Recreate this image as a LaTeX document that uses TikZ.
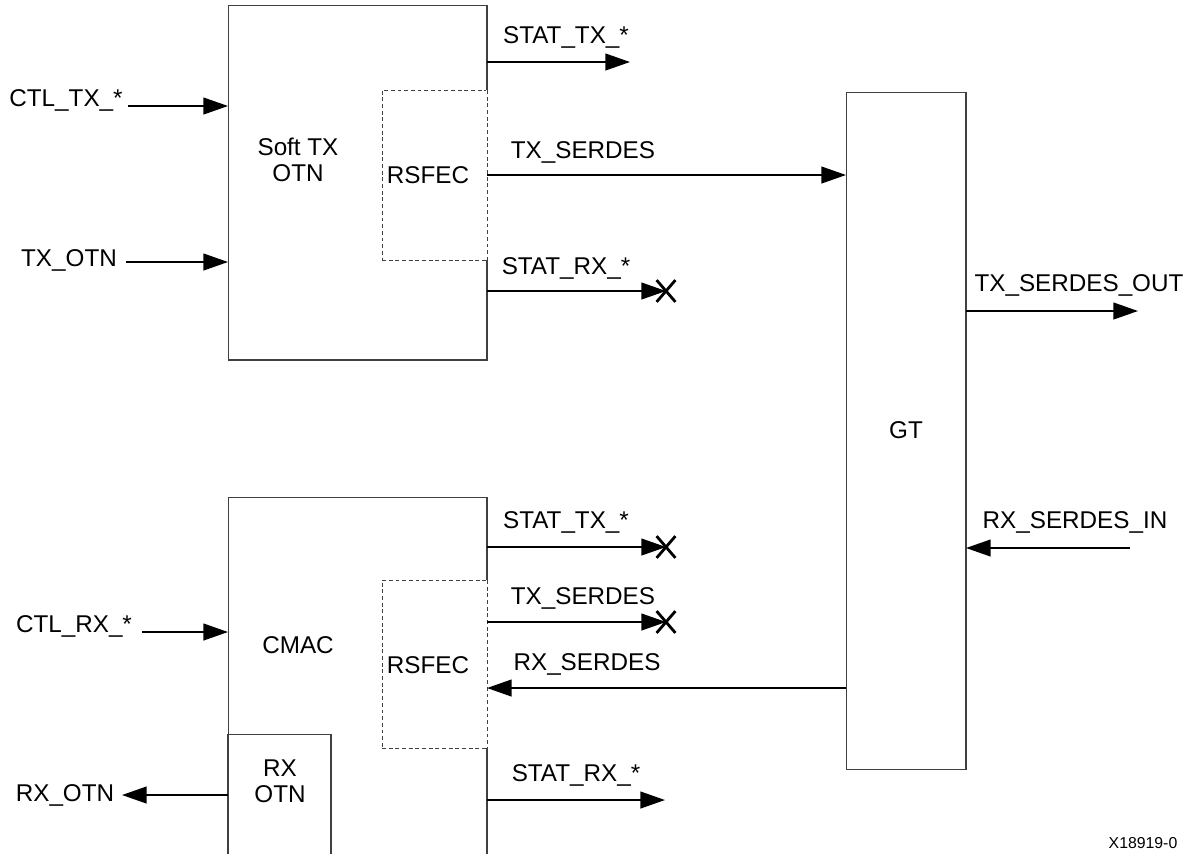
\documentclass[tikz,border=0pt]{standalone}
\usepackage{fontspec}
\setmainfont{Liberation Sans}
\usetikzlibrary{arrows.meta,shapes.misc,positioning}

\begin{document}
\begin{tikzpicture}[x=0.02cm,y=-0.02cm,>={Triangle[length=14pt,width=9.5pt]},
    blk/.style={draw=black!75,line width=0.6pt,inner sep=0pt,outer sep=0pt},
    fec/.style={draw=black!75,line width=0.5pt,dash pattern=on 2.2pt off 1.6pt,inner sep=0pt,outer sep=0pt},
    sig/.style={->,line width=1.1pt},
    lbl/.style={font=\fontsize{13.8}{14.6}\selectfont,inner sep=1pt,align=center},
    xend/.style={cross out,draw,line width=1.6pt,minimum width=0.32cm,minimum height=0.38cm,inner sep=0pt}]
    \useasboundingbox (0,0) rectangle (1195,853);
    % blocks
    \node[blk,minimum width=5.18cm,minimum height=7.1cm] (softtx) at (357.5,182.5) {};
    \node[blk,minimum width=5.18cm,minimum height=7.2cm] (cmac) at (357.5,677) {};
    \node[blk,minimum width=2.4cm,minimum height=13.56cm] (gt) at (906,431) {};
    \node[blk,minimum width=2.06cm,minimum height=2.44cm] (rxotn) at (279.5,795) {};
    \node[fec,minimum width=2.1cm,minimum height=3.4cm] (fec1) at (434.5,175) {};
    \node[fec,minimum width=2.1cm,minimum height=3.36cm] (fec2) at (434.5,664) {};
    \draw[white,line width=1.2pt] (fec1.north east) -- (fec1.south east) (fec2.north east) -- (fec2.south east);
    \draw[fec] (fec1.north east) -- (fec1.south east) (fec2.north east) -- (fec2.south east);
    \node[lbl] (softlbl) at (298,160) {Soft TX\\OTN};
    \node[lbl] (cmaclbl) at (298,645) {CMAC};
    \node[lbl] (gtlbl) at (906,430) {GT};
    \node[lbl] (rxotnlbl) at (280,781) {RX\\OTN};
    \node[lbl] (fec1lbl) at (428,175) {RSFEC};
    \node[lbl] (fec2lbl) at (428,665) {RSFEC};
    % inputs on the left
    \coordinate (ctltxin) at (128,106);
    \coordinate (txotnin) at (126,262);
    \coordinate (ctlrxin) at (142,632);
    \coordinate (rxotnout) at (122,795);
    \node[lbl] (ctltx) at (66,100) {CTL\_TX\_*};
    \node[lbl] (txotn) at (69,260) {TX\_OTN};
    \node[lbl] (ctlrx) at (74,626) {CTL\_RX\_*};
    \node[lbl] (rxotnl) at (65,795) {RX\_OTN};
    \draw[sig] (ctltxin) -- (ctltxin -| softtx.west);
    \draw[sig] (txotnin) -- (txotnin -| softtx.west);
    \draw[sig] (ctlrxin) -- (ctlrxin -| cmac.west);
    \draw[sig] (rxotnout -| rxotn.west) -- (rxotnout);
    % soft tx otn outputs
    \coordinate (stattxa) at (630,62);
    \node[lbl] (stattxal) at (566,37) {STAT\_TX\_*};
    \draw[sig] (softtx.east |- stattxa) -- (stattxa);
    \coordinate (txsa) at (0,175);
    \node[lbl] (txsal) at (583,152) {TX\_SERDES};
    \draw[sig] (softtx.east |- txsa) -- (gt.west |- txsa);
    \node[lbl] (statrxal) at (566,268) {STAT\_RX\_*};
    % cmac outputs
    \node[lbl] (stattxbl) at (566,522) {STAT\_TX\_*};
    \node[lbl] (txsbl) at (583,598) {TX\_SERDES};
    \coordinate (rxsb) at (0,688);
    \node[lbl] (rxsbl) at (587,664) {RX\_SERDES};
    \draw[sig] (gt.west |- rxsb) -- (cmac.east |- rxsb);
    \coordinate (statrxb) at (665,800);
    \node[lbl] (statrxbl) at (576,775) {STAT\_RX\_*};
    \draw[sig] (cmac.east |- statrxb) -- (statrxb);
    \foreach \b/\n/\y in {softtx/xa/291,cmac/xb/547,cmac/xc/622}{
      \node[xend] (\n) at (666,\y) {};
      \draw[sig] (\b.east |- \n) -- (\n.center);}
    % gt serial side
    \coordinate (txsout) at (1138,311);
    \node[lbl] (txsoutl) at (1079,285) {TX\_SERDES\_OUT};
    \draw[sig] (gt.east |- txsout) -- (txsout);
    \coordinate (rxsin) at (1130,548);
    \node[lbl] (rxsinl) at (1075,522) {RX\_SERDES\_IN};
    \draw[sig] (rxsin) -- (rxsin -| gt.east);
    \node[font=\fontsize{9}{10}\selectfont,inner sep=0pt] (fignum) at (1143,843) {X18919-0};
\end{tikzpicture}
\end{document}
